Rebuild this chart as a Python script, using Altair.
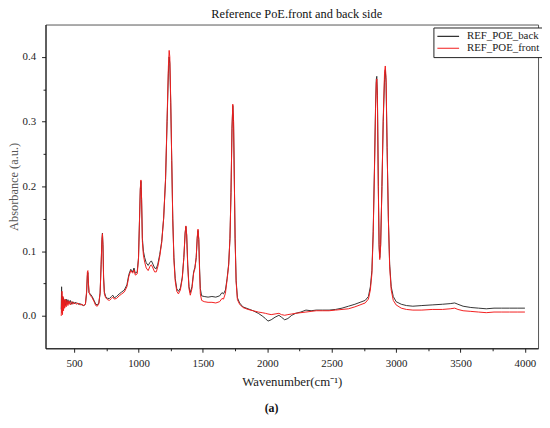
import altair as alt
import pandas as pd

# ---------------- data ----------------
wavenumber = [
    400, 403, 406, 410, 414, 418, 422, 427, 432, 438, 445, 452, 460, 470, 480, 490,
    500, 515, 530, 545, 560, 575, 588, 597, 603, 607, 611, 616, 625, 640, 655, 668,
    680, 692, 702, 710, 716, 720, 724, 729, 735, 745, 760, 775, 790, 800, 812, 830,
    850, 870, 890, 910, 925, 940, 955, 965, 975, 990, 1000, 1008, 1014, 1019, 1024,
    1030, 1038, 1048, 1060, 1075, 1090, 1100, 1112, 1125, 1138, 1150, 1165, 1180,
    1195, 1210, 1222, 1232, 1238, 1243, 1250, 1258, 1266, 1275, 1285, 1297, 1310,
    1325, 1340, 1352, 1362, 1368, 1374, 1382, 1392, 1402, 1415, 1428, 1438, 1448,
    1456, 1462, 1468, 1474, 1480, 1490, 1510, 1540, 1570, 1600, 1630, 1648, 1660,
    1675, 1688, 1700, 1710, 1718, 1726, 1732, 1738, 1744, 1750, 1758, 1768, 1785,
    1810, 1850, 1890, 1930, 1960, 1985, 2005, 2030, 2060, 2090, 2110, 2135, 2160,
    2190, 2220, 2260, 2300, 2340, 2380, 2430, 2480, 2530, 2580, 2630, 2680, 2720,
    2760, 2785, 2800, 2812, 2822, 2832, 2840, 2846, 2850, 2855, 2862, 2868, 2873,
    2880, 2890, 2900, 2910, 2916, 2922, 2930, 2940, 2950, 2962, 2978, 3000, 3040,
    3080, 3130, 3200, 3280, 3360, 3420, 3455, 3480, 3520, 3580, 3640, 3700, 3760,
    3820, 3880, 3940, 4000,
]

absorb_back = [
    0.010, 0.045, 0.005, 0.030, 0.015, 0.028, 0.012, 0.025, 0.016, 0.026, 0.018, 0.025, 0.019, 0.024, 0.018, 0.022,
    0.019, 0.021, 0.018, 0.019, 0.017, 0.016, 0.018, 0.035, 0.062, 0.067, 0.050, 0.036, 0.034, 0.030, 0.024, 0.018,
    0.017, 0.020, 0.035, 0.080, 0.118, 0.128, 0.110, 0.060, 0.037, 0.030, 0.027, 0.027, 0.030, 0.032, 0.028, 0.030,
    0.034, 0.037, 0.040, 0.048, 0.064, 0.072, 0.068, 0.074, 0.066, 0.068, 0.090, 0.150, 0.195, 0.208, 0.180,
    0.120, 0.100, 0.090, 0.082, 0.078, 0.083, 0.085, 0.080, 0.074, 0.073, 0.080, 0.095, 0.115,
    0.150, 0.210, 0.300, 0.375, 0.400, 0.390, 0.330, 0.240, 0.150, 0.090, 0.058, 0.042, 0.038,
    0.043, 0.060, 0.090, 0.128, 0.138, 0.125, 0.080, 0.045, 0.036, 0.045, 0.068, 0.075, 0.090,
    0.120, 0.132, 0.118, 0.075, 0.042, 0.031, 0.030, 0.029, 0.030, 0.029, 0.031, 0.036, 0.034,
    0.040, 0.058, 0.080, 0.120, 0.190, 0.290, 0.325, 0.300, 0.210, 0.120, 0.055, 0.028, 0.020,
    0.014, 0.011, 0.008, 0.004, 0.000, -0.004, -0.008, -0.006, -0.002, 0.001, -0.002, -0.006, -0.004,
    0.001, 0.004, 0.006, 0.009, 0.008, 0.009, 0.009, 0.009, 0.010, 0.012, 0.015, 0.018, 0.021,
    0.024, 0.030, 0.045, 0.070, 0.130, 0.230, 0.320, 0.365, 0.370, 0.340, 0.200, 0.110, 0.090,
    0.110, 0.200, 0.300, 0.365, 0.380, 0.360, 0.260, 0.150, 0.080, 0.045, 0.030, 0.022, 0.018,
    0.016, 0.015, 0.016, 0.017, 0.018, 0.019, 0.020, 0.018, 0.015, 0.013, 0.012, 0.011, 0.012,
    0.012, 0.012, 0.012, 0.012,
]

absorb_front = [
    0.000, 0.020, 0.038, 0.002, 0.030, 0.008, 0.025, 0.012, 0.026, 0.014, 0.024, 0.016, 0.023, 0.017, 0.022, 0.018,
    0.021, 0.018, 0.020, 0.017, 0.018, 0.016, 0.018, 0.038, 0.068, 0.070, 0.052, 0.036, 0.032, 0.028, 0.022, 0.016,
    0.015, 0.019, 0.036, 0.080, 0.117, 0.127, 0.108, 0.057, 0.034, 0.028, 0.025, 0.024, 0.027, 0.029, 0.026, 0.027,
    0.031, 0.034, 0.037, 0.045, 0.061, 0.070, 0.066, 0.071, 0.063, 0.065, 0.088, 0.150, 0.197, 0.210, 0.180,
    0.115, 0.094, 0.083, 0.074, 0.070, 0.077, 0.079, 0.074, 0.068, 0.068, 0.076, 0.092, 0.113,
    0.150, 0.212, 0.305, 0.385, 0.410, 0.400, 0.335, 0.240, 0.148, 0.086, 0.054, 0.038, 0.034,
    0.040, 0.058, 0.090, 0.128, 0.139, 0.125, 0.078, 0.042, 0.032, 0.042, 0.066, 0.073, 0.090,
    0.122, 0.134, 0.118, 0.070, 0.034, 0.024, 0.022, 0.021, 0.021, 0.020, 0.022, 0.027, 0.026,
    0.035, 0.056, 0.078, 0.120, 0.190, 0.290, 0.327, 0.302, 0.210, 0.118, 0.052, 0.025, 0.018,
    0.013, 0.010, 0.008, 0.006, 0.005, 0.004, 0.003, 0.002, 0.003, 0.004, 0.002, 0.001, 0.002,
    0.003, 0.004, 0.005, 0.006, 0.007, 0.008, 0.008, 0.008, 0.009, 0.010, 0.011, 0.014, 0.017,
    0.020, 0.026, 0.040, 0.065, 0.125, 0.225, 0.315, 0.360, 0.366, 0.335, 0.195, 0.105, 0.087,
    0.108, 0.200, 0.305, 0.375, 0.386, 0.368, 0.262, 0.148, 0.076, 0.040, 0.024, 0.017, 0.012,
    0.010, 0.009, 0.009, 0.010, 0.010, 0.011, 0.012, 0.010, 0.008, 0.007, 0.006, 0.005, 0.006,
    0.006, 0.006, 0.006, 0.006,
]

series_names = ["REF_POE_back", "REF_POE_front"]
series_colors = ["#333333", "#f21d1d"]
x_tick_values = [500, 750, 1000, 1250, 1500, 1750, 2000, 2250, 2500, 2750,
                 3000, 3250, 3500, 3750, 4000]
y_tick_values = [0.0, 0.05, 0.1, 0.15, 0.2, 0.25, 0.3, 0.35, 0.4]
chart_title = "Reference PoE.front and back side"
x_title = "Wavenumber(cm\u207b\u00b9)"
y_title = "Absorbance (a.u.)"
caption_text = ["(a)"]

# ---------------- table ----------------
df = pd.concat([
    pd.DataFrame({"wn": wavenumber, "absorb": absorb_back,
                  "series": series_names[0]}),
    pd.DataFrame({"wn": wavenumber, "absorb": absorb_front,
                  "series": series_names[1]}),
], ignore_index=True)

SERIF = "Liberation Serif"

x_axis = alt.Axis(
    values=x_tick_values,
    labelExpr="datum.value % 500 == 0 ? datum.label : ''",
    format="d",
    tickSize={"condition": {"test": "datum.value % 500 != 0", "value": 2.5}, "value": 4},
    tickColor="#222", domainColor="#111", domainWidth=1,
    labelFont=SERIF, labelFontSize=11, labelColor="#222", labelPadding=5,
    labelFlush=False, labelOverlap=False,
    title=x_title, titleFont=SERIF, titleFontSize=13, titleFontWeight="normal",
    titleColor="#222", titlePadding=8, grid=False,
)

y_axis = alt.Axis(
    values=y_tick_values,
    labelExpr="round(datum.value*100) % 10 == 0 ? format(datum.value, '.1f') : ''",
    tickSize={"condition": {"test": "round(datum.value*100) % 10 != 0", "value": 2.5}, "value": 4},
    tickColor="#222", domainColor="#111", domainWidth=1,
    labelFont=SERIF, labelFontSize=11, labelColor="#222", labelPadding=6,
    labelFlush=False, labelOverlap=False,
    title=y_title, titleFont=SERIF, titleFontSize=12.5, titleFontWeight="normal",
    titleColor="#555", titlePadding=2, grid=False,
)

legend = alt.Legend(
    title=None, orient="none", legendX=393, legendY=3,
    strokeColor="#222", fillColor="white", padding=3, cornerRadius=0,
    symbolType="stroke", symbolSize=484, symbolStrokeWidth=1.2,
    labelFont=SERIF, labelFontSize=11, labelColor="#222", labelOffset=7,
    rowPadding=0, clipHeight=12,
)

lines = alt.Chart(df).mark_line(strokeWidth=1).encode(
    x=alt.X("wn:Q", scale=alt.Scale(domain=[278, 4102], nice=False, zero=False), axis=x_axis),
    y=alt.Y("absorb:Q", scale=alt.Scale(domain=[-0.05, 0.45], nice=False, zero=False), axis=y_axis),
    color=alt.Color("series:N", scale=alt.Scale(domain=series_names, range=series_colors),
                    legend=legend),
    detail="series:N",
    order=alt.Order("wn:Q"),
)

caption = alt.Chart(pd.DataFrame({"t": caption_text})).mark_text(
    font=SERIF, fontSize=12, fontWeight="bold", color="#111", baseline="middle", align="center"
).encode(
    text="t:N",
    x=alt.value(229),
    y=alt.value(389),
)

chart = alt.layer(lines, caption).properties(
    width=499, height=328,
    title=alt.TitleParams(chart_title, font=SERIF, fontSize=12.5, fontWeight="normal",
                          color="#111", offset=4, anchor="middle", dx=5),
    autosize=alt.AutoSizeParams(type="none"),
    padding={"left": 38, "top": 14, "right": 4, "bottom": 78},
).configure_view(stroke="#555", strokeWidth=1)

chart.save("out.html", embed_options={"renderer": "svg", "actions": False})
